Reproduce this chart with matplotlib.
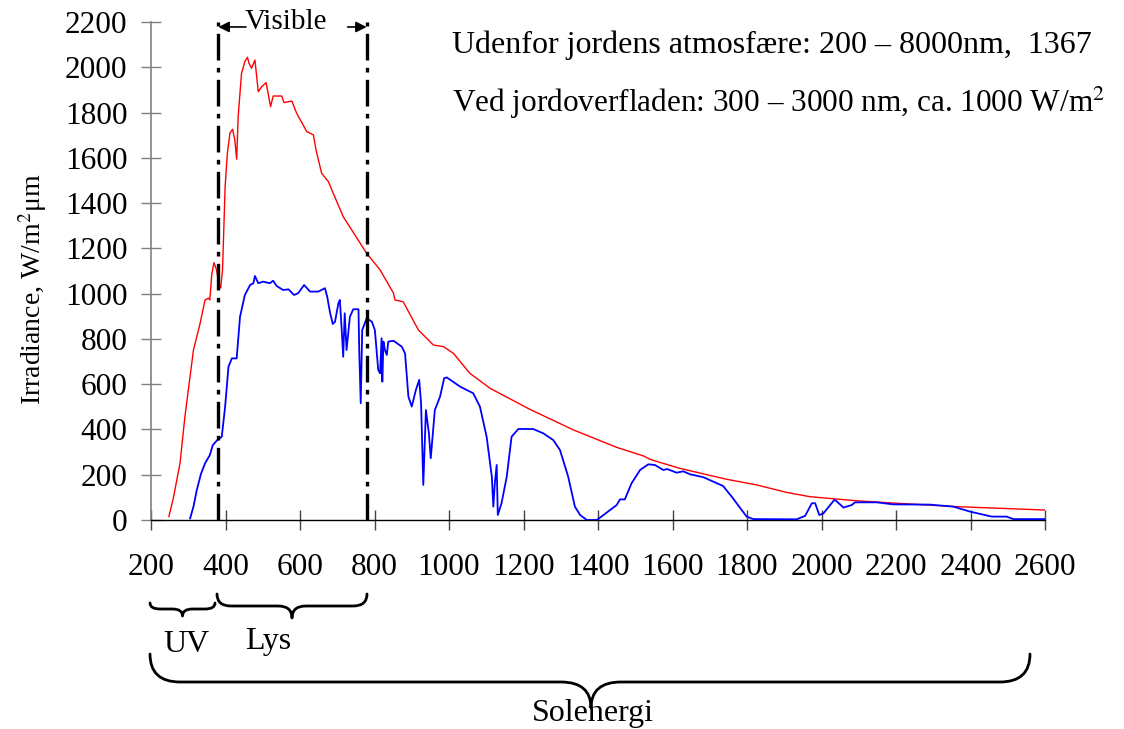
import matplotlib
matplotlib.use("Agg")
import matplotlib.pyplot as plt
from matplotlib.path import Path
from matplotlib.patches import PathPatch
import numpy as np

plt.rcParams['font.family'] = ['Liberation Serif', 'DejaVu Serif']
plt.rcParams['mathtext.fontset'] = 'stix'

# Extraterrestrial spectrum (red)
red_nm = [248, 260, 278, 291, 314, 332, 345, 354, 358, 363, 369, 376, 381, 387, 392,
          399, 405, 412, 419, 425, 430, 434, 443, 452, 459, 463, 470, 479, 488, 497, 509,
          521, 528, 551, 557, 578, 591, 618, 636, 643, 658, 676, 716, 779, 815, 851,
          855, 877, 918, 958, 985, 1012, 1056, 1110, 1217, 1334, 1450, 1522, 1540,
          1575, 1620, 1745, 1826, 1906, 1969, 2094, 2202, 2363, 2600]
red_val = [15, 97, 252, 456, 751, 870, 972, 980, 972, 1083, 1137, 1105, 1053, 1025, 1105,
           1473, 1620, 1710, 1726, 1679, 1594, 1782, 1973, 2025, 2044, 2018, 1996, 2032, 1892, 1914, 1932,
           1826, 1873, 1873, 1844, 1851, 1797, 1716, 1701, 1635, 1532, 1495, 1340, 1178, 1105, 1002,
           972, 964, 839, 773, 766, 736, 648, 582, 489, 398, 321, 283, 268,
           250, 228, 180, 155, 122, 103, 85, 74, 59, 44]

# Surface spectrum (blue)
blue_nm = [305, 314, 323, 334, 345, 358, 366, 378, 390, 399, 408, 417, 430, 439, 452, 466,
           475, 479, 488, 501, 519, 528, 537, 555, 569, 584, 595, 611, 627, 649, 667, 673,
           681, 688, 694, 703, 707, 712, 716, 720, 725, 734, 743, 757, 759, 763, 767, 779,
           793, 801, 810, 815, 819, 821, 824, 828, 833, 837, 851, 873, 882, 891, 900, 911,
           920, 925, 931, 938, 946, 951, 956, 962, 976, 987, 994, 1030, 1065, 1083, 1101,
           1115, 1119, 1123, 1128, 1131, 1141, 1155, 1168, 1186, 1226, 1253, 1280, 1298,
           1320, 1338, 1352, 1370, 1397, 1450, 1459, 1472, 1490, 1513, 1535, 1553, 1575,
           1586, 1611, 1629, 1647, 1683, 1736, 1759, 1799, 1817, 1933, 1956, 1974, 1983,
           1994, 2005, 2034, 2039, 2059, 2081, 2090, 2148, 2193, 2291, 2354, 2399, 2457,
           2497, 2515, 2600]
blue_val = [7, 59, 133, 203, 250, 287, 331, 353, 368, 501, 677, 714, 714, 898, 994, 1038,
            1046, 1078, 1046, 1053, 1046, 1057, 1034, 1016, 1019, 994, 1002, 1038, 1009, 1009, 1024, 987,
            913, 866, 876, 957, 972, 839, 721, 913, 751, 898, 931, 931, 751, 516, 839, 891,
            876, 839, 663, 648, 803, 611, 788, 751, 729, 788, 792, 766, 736, 545, 501, 574,
            619, 516, 155, 486, 383, 273, 368, 486, 545, 626, 630, 589, 560, 501, 368,
            191, 59, 162, 243, 22, 74, 191, 368, 402, 402, 383, 353, 309,
            191, 59, 22, 0, 0, 66, 91, 91, 162, 221, 246, 243, 221,
            225, 209, 215, 202, 189, 150, 103, 15, 4, 3, 18, 74, 74,
            22, 29, 88, 85, 55, 66, 78, 78, 69, 68, 59, 37, 15,
            15, 4, 4]

x_ticks = [200, 400, 600, 800, 1000, 1200, 1400, 1600, 1800, 2000, 2200, 2400, 2600]
y_ticks = [0, 200, 400, 600, 800, 1000, 1200, 1400, 1600, 1800, 2000, 2200]
visible_range = [380, 780]

W, H = 1124, 729
fig = plt.figure(figsize=(W / 100, H / 100), dpi=100)
ax = fig.add_axes([151 / W, (H - 520) / H, (1045 - 151) / W, (520 - 22) / H])

ax.plot(red_nm, red_val, color='#ff0000', lw=1.0, zorder=3)
ax.plot(blue_nm, blue_val, color='#0000ff', lw=1.3, zorder=3)

for xv in visible_range:
    ax.plot([xv, xv], [0, 2200], color='black', lw=2.4,
            dashes=(8, 2.2, 1.4, 2.2), zorder=4, clip_on=False)

ax.set_xlim(200, 2600)
ax.set_ylim(0, 2200)
ax.set_xticks(x_ticks)
ax.set_yticks(y_ticks)
ax.set_xticklabels([str(v) for v in x_ticks], fontsize=22.5)
ax.set_yticklabels([str(v) for v in y_ticks], fontsize=22.5)
ax.tick_params(axis='x', direction='inout', length=14, width=1.0, color='#444444', pad=17)
ax.tick_params(axis='y', direction='inout', length=15, width=1.0, color='#808080', pad=9.5)
for s in ['top', 'right']:
    ax.spines[s].set_visible(False)
ax.spines['left'].set_color('#808080')
ax.spines['left'].set_linewidth(1.2)
ax.spines['bottom'].set_color('black')
ax.spines['bottom'].set_linewidth(1.0)
ax.set_ylabel('Irradiance, W/m$^2$μm', fontsize=20)
ax.yaxis.set_label_coords(-0.114, 0.464)

# Visible label with arrows
ax.text(562, 2200, 'Visible', ha='center', va='center', fontsize=21, clip_on=False)
ax.annotate('', xy=(381, 2178), xytext=(455, 2178),
            arrowprops=dict(arrowstyle='-|>', color='black', lw=1.2, mutation_scale=16,
                            shrinkA=0, shrinkB=0), annotation_clip=False)
ax.annotate('', xy=(779, 2178), xytext=(728, 2178),
            arrowprops=dict(arrowstyle='-|>', color='black', lw=1.2, mutation_scale=16,
                            shrinkA=0, shrinkB=0), annotation_clip=False)

def fx(x):
    return x / W

def fy(y):
    return (H - y) / H

fig.text(fx(452), fy(45), 'Udenfor jordens atmosfære: 200 – 8000nm,  1367',
         ha='left', va='center', fontsize=23)
fig.text(fx(452), fy(103), 'Ved jordoverfladen: 300 – 3000 nm, ca. 1000 W/m$^2$',
         ha='left', va='center', fontsize=22.5)

def brace(x0, x1, xm, ytop, ymid, ybot, r, lw=2.0):
    pts = [(x0, ytop), (x0, ymid), (x0 + r, ymid),
           (xm - r, ymid),
           (xm, ymid), (xm, ybot),
           (xm, ymid), (xm + r, ymid),
           (x1 - r, ymid),
           (x1, ymid), (x1, ytop)]
    codes = [Path.MOVETO, Path.CURVE3, Path.CURVE3,
             Path.LINETO,
             Path.CURVE3, Path.CURVE3,
             Path.CURVE3, Path.CURVE3,
             Path.LINETO,
             Path.CURVE3, Path.CURVE3]
    verts = [(fx(a), fy(b)) for a, b in pts]
    p = PathPatch(Path(verts, codes), transform=fig.transFigure, fill=False,
                  edgecolor='black', lw=lw, capstyle='round', joinstyle='round')
    fig.add_artist(p)

brace(150, 215, 182.5, 603, 609, 616, 10, lw=2.0)
brace(217, 367, 292, 594, 606, 618, 14, lw=2.0)
brace(150, 1030, 591, 654, 682, 708, 30, lw=2.0)

fig.text(fx(186), fy(645), 'UV', ha='center', va='center', fontsize=23)
fig.text(fx(268), fy(641), 'Lys', ha='center', va='center', fontsize=23)
fig.text(fx(593), fy(713), 'Solenergi', ha='center', va='center', fontsize=23)

fig.savefig('out.png', dpi=100, facecolor='white')
